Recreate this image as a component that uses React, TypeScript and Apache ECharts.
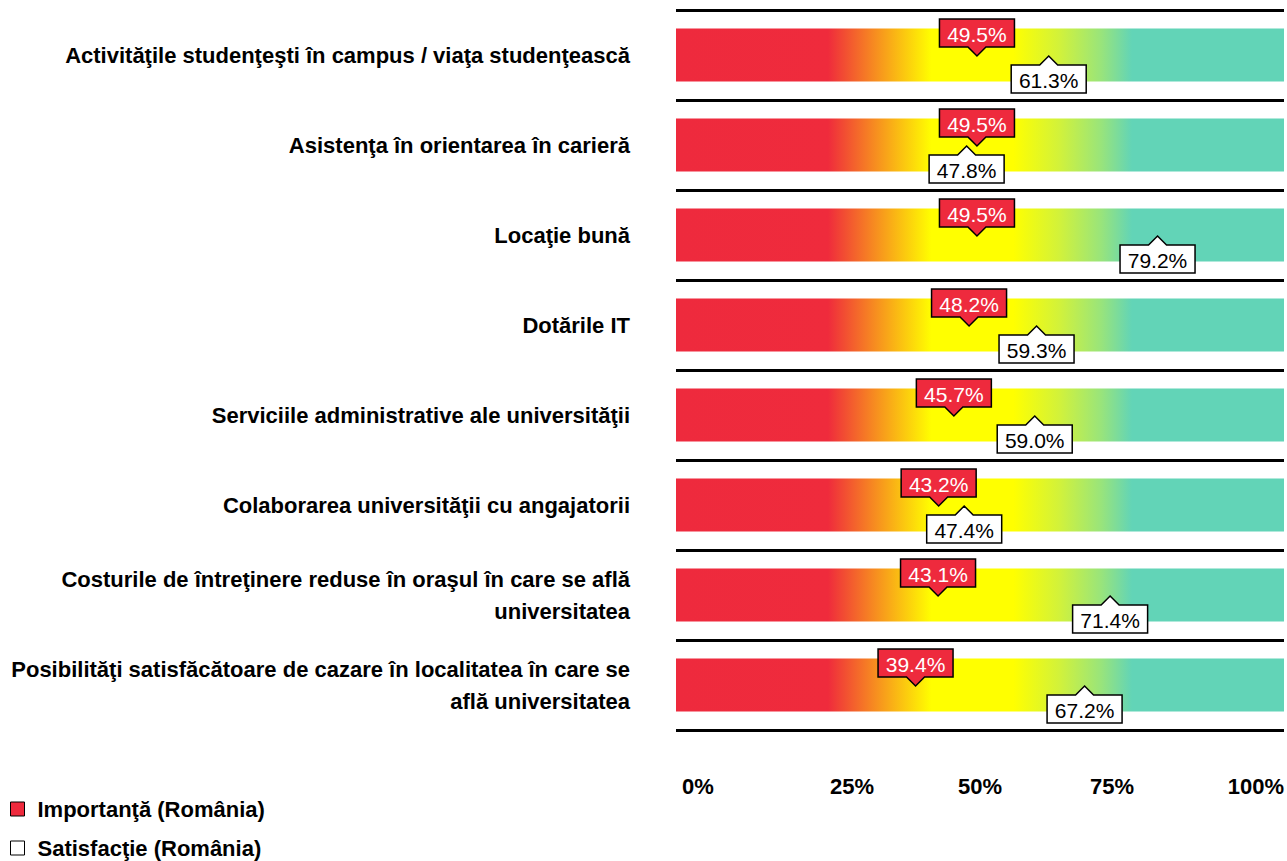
import React, { useEffect, useRef } from "react";
import * as echarts from "echarts";

const categories = [
  "Activităţile studenţeşti în campus / viaţa studenţească",
  "Asistenţa în orientarea în carieră",
  "Locaţie bună",
  "Dotările IT",
  "Serviciile administrative ale universităţii",
  "Colaborarea universităţii cu angajatorii",
  "Costurile de întreţinere reduse în oraşul în care se află\nuniversitatea",
  "Posibilităţi satisfăcătoare de cazare în localitatea în care se\nafla universitatea".replace("afla", "află"),
];
const importanta = [49.5, 49.5, 49.5, 48.2, 45.7, 43.2, 43.1, 39.4];
const satisfactie = [61.3, 47.8, 79.2, 59.3, 59.0, 47.4, 71.4, 67.2];
const scaleMax = [100, 100, 100, 100, 100, 100, 100, 100];
const tickValues = [0, 25, 50, 75, 100];

const NAME_IMP = "Importanţă (România)";
const NAME_SAT = "Satisfacţie (România)";
const RED = "#EE2A3D";
const FONT = "'Liberation Sans', Arial, sans-serif";

function markerRenderer(kind: "imp" | "sat") {
  return (params: any, api: any) => {
    const v = api.value(0);
    const c = api.value(1);
    const p = api.coord([v, c]);
    const x = p[0];
    const y = p[1] + 1;
    const w = 75;
    const h = 28;
    const ph = 9;
    const pw = 9;
    let points: number[][];
    let textY: number;
    if (kind === "imp") {
      const top = y - ph - h;
      const bot = top + h;
      points = [
        [x - w / 2, top],
        [x + w / 2, top],
        [x + w / 2, bot],
        [x + pw, bot],
        [x, y],
        [x - pw, bot],
        [x - w / 2, bot],
      ];
      textY = top + h / 2 + 1;
    } else {
      const top = y + ph;
      const bot = top + h;
      points = [
        [x, y],
        [x + pw, top],
        [x + w / 2, top],
        [x + w / 2, bot],
        [x - w / 2, bot],
        [x - w / 2, top],
        [x - pw, top],
      ];
      textY = top + h / 2 + 1;
    }
    return {
      type: "group",
      children: [
        {
          type: "polygon",
          shape: { points },
          style: {
            fill: kind === "imp" ? RED : "#FFFFFF",
            stroke: "#000000",
            lineWidth: 1.5,
          },
        },
        {
          type: "text",
          style: {
            text: v.toFixed(1) + "%",
            x,
            y: textY,
            align: "center",
            verticalAlign: "middle",
            fill: kind === "imp" ? "#FFFFFF" : "#000000",
            fontSize: 21,
            fontFamily: FONT,
          },
        },
      ],
    };
  };
}

export default function App() {
  const ref = useRef<HTMLDivElement>(null);
  useEffect(() => {
    if (!ref.current) return;
    const chart = echarts.init(ref.current, undefined, { renderer: "svg" });
    const gradient = new echarts.graphic.LinearGradient(0, 0, 1, 0, [
      { offset: 0, color: RED },
      { offset: 0.25, color: "#EF2B3C" },
      { offset: 0.33, color: "#F7901F" },
      { offset: 0.42, color: "#FFFF00" },
      { offset: 0.555, color: "#FFFF00" },
      { offset: 0.63, color: "#D2F23A" },
      { offset: 0.7, color: "#98E47C" },
      { offset: 0.75, color: "#62D4B7" },
      { offset: 1, color: "#62D4B7" },
    ]);
    const shifts: Record<number, string> = {
      0: "a",
      25: "b",
      50: "c",
      75: "d",
      100: "e",
    };
    const tickRich = {
      fontSize: 22,
      fontWeight: "bold" as const,
      fontFamily: FONT,
      color: "#000",
    };
    const legendText = {
      fontSize: 22,
      fontWeight: "bold" as const,
      fontFamily: FONT,
      color: "#000",
      padding: [0, 0, 0, 8],
    };
    chart.setOption({
      animation: false,
      backgroundColor: "#ffffff",
      grid: { left: 676, right: 0, top: 10, height: 720, containLabel: false },
      legend: [
        {
          left: 5,
          top: 793,
          itemWidth: 14,
          itemHeight: 14,
          selectedMode: false,
          textStyle: legendText,
          data: [
            {
              name: NAME_IMP,
              icon: "rect",
              itemStyle: { color: RED, borderColor: "#000", borderWidth: 1 },
            },
          ],
        },
        {
          left: 5,
          top: 832,
          itemWidth: 14,
          itemHeight: 14,
          selectedMode: false,
          textStyle: legendText,
          data: [
            {
              name: NAME_SAT,
              icon: "rect",
              itemStyle: { color: "#fff", borderColor: "#000", borderWidth: 1 },
            },
          ],
        },
      ],
      xAxis: {
        type: "value",
        min: 0,
        max: 100,
        interval: 25,
        axisLine: { show: false },
        axisTick: { show: false },
        splitLine: { show: false },
        axisLabel: {
          margin: 45,
          alignMinLabel: "left",
          alignMaxLabel: "right",
          customValues: tickValues,
          formatter: (v: number) => `{${shifts[v] || "c"}|${v}%}`,
          rich: {
            a: { ...tickRich, padding: [0, 0, 0, 6] },
            b: { ...tickRich, padding: [0, 0, 0, 48] },
            c: { ...tickRich },
            d: { ...tickRich, padding: [0, 40, 0, 0] },
            e: { ...tickRich },
          },
        },
      },
      yAxis: {
        type: "category",
        inverse: true,
        data: categories,
        axisLine: { show: false },
        axisTick: { show: false },
        splitLine: { show: true, lineStyle: { color: "#000", width: 3 } },
        axisLabel: {
          margin: 46,
          fontSize: 22,
          fontWeight: "bold",
          fontFamily: FONT,
          color: "#000",
          lineHeight: 32,
          align: "right",
        },
      },
      series: [
        {
          type: "bar",
          name: "scale",
          data: scaleMax,
          barWidth: 53,
          silent: true,
          itemStyle: { color: gradient },
          z: 1,
        },
        {
          type: "custom",
          name: NAME_SAT,
          itemStyle: { color: "#fff" },
          data: satisfactie.map((v, i) => [v, i]),
          encode: { x: 0, y: 1 },
          renderItem: markerRenderer("sat"),
          clip: false,
          z: 3,
        },
        {
          type: "custom",
          name: NAME_IMP,
          itemStyle: { color: RED },
          data: importanta.map((v, i) => [v, i]),
          encode: { x: 0, y: 1 },
          renderItem: markerRenderer("imp"),
          clip: false,
          z: 4,
        },
      ],
    });
    return () => chart.dispose();
  }, []);
  return (
    <div
      ref={ref}
      style={{ position: "fixed", left: 0, top: 0, width: 1287, height: 861, background: "#fff" }}
    />
  );
}
